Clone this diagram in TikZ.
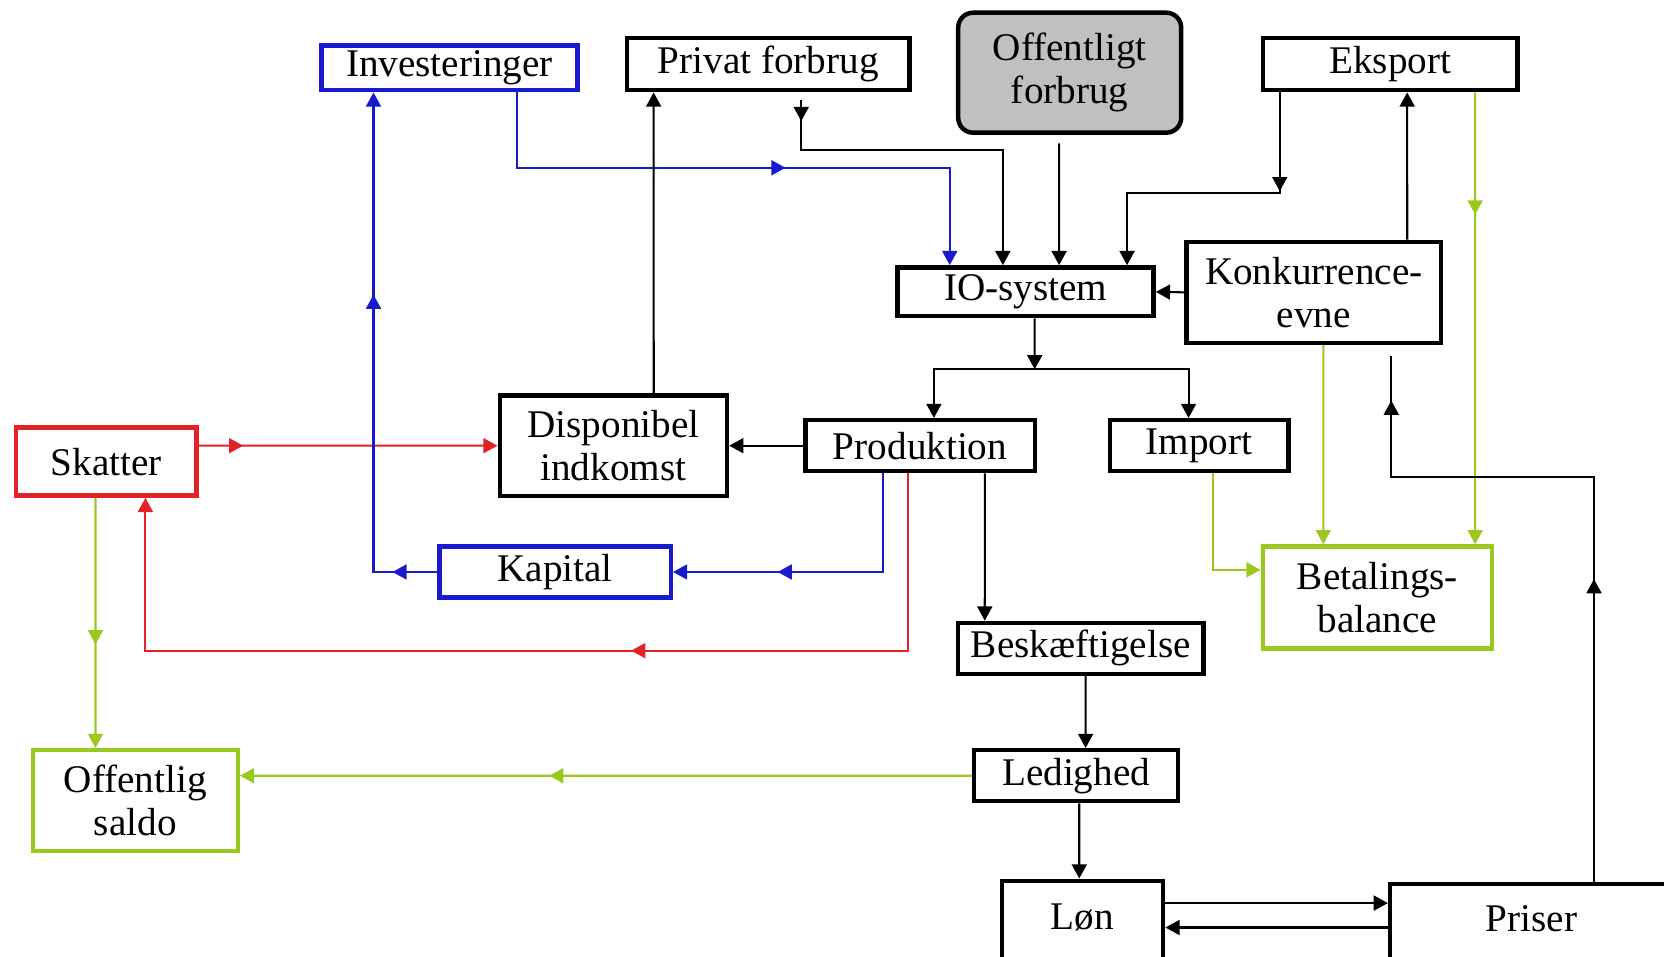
\documentclass[tikz,border=0pt]{standalone}
\usepackage{fontspec}
\setmainfont{Liberation Serif}
\usetikzlibrary{arrows.meta, decorations.markings, positioning, calc}
\definecolor{blaa}{RGB}{25,25,205}
\definecolor{roed}{RGB}{225,35,40}
\definecolor{groen}{RGB}{155,200,30}
\definecolor{graa}{RGB}{192,192,192}
\tikzstyle{block} = [draw, line width=1.2pt, inner sep=0pt, align=center, font=\fontsize{10.5}{11.5}\selectfont]
\tikzstyle{link} = [->, line width=0.55pt]
\tikzstyle{bluelink} = [link, color=blaa]
\tikzstyle{redlink} = [link, color=roed]
\tikzstyle{greenlink} = [link, color=groen]
\tikzset{midtip/.style={postaction={decorate, decoration={markings, mark=at position #1 with {\arrow{>}}}}}}

\begin{document}
\begin{tikzpicture}[x=0.01cm, y=-0.01cm, >={Triangle[length=3.8pt, width=4pt]}]
    \useasboundingbox (0,0) rectangle (1568,901);

    % --- demand side
    \node[block, draw=blaa, minimum width=2.41cm, minimum height=0.42cm] (inv) at (423.5,64) {Investeringer};
    \node[block, minimum width=2.66cm, minimum height=0.49cm] (privat) at (724,60.5) {Privat forbrug};
    \node[block, fill=graa, rounded corners=4pt, minimum width=2.1cm, minimum height=1.13cm] (offforbrug) at (1008,68.5) {Offentligt\\forbrug};
    \node[block, minimum width=2.4cm, minimum height=0.49cm] (eksport) at (1310,60.5) {Eksport};
    % --- IO-system
    \node[block, minimum width=2.41cm, minimum height=0.46cm] (io) at (966.5,275) {IO-system};
    \node[block, minimum width=2.4cm, minimum height=0.95cm] (konk) at (1238,275.5) {Konkurrence-\\evne};
    % --- middle row
    \node[block, draw=roed, minimum width=1.7cm, minimum height=0.64cm] (skatter) at (100,435) {Skatter};
    \node[block, minimum width=2.14cm, minimum height=0.95cm] (disp) at (578,420) {Disponibel\\indkomst};
    \node[block, minimum width=2.16cm, minimum height=0.48cm] (prod) at (867,420) {Produktion};
    \node[block, minimum width=1.68cm, minimum height=0.48cm] (import) at (1130,420) {Import};
    \node[block, draw=blaa, minimum width=2.18cm, minimum height=0.48cm] (kapital) at (523,539) {Kapital};
    \node[block, draw=groen, minimum width=2.16cm, minimum height=0.96cm] (betal) at (1298,563) {Betalings-\\balance};
    % --- labour market
    \node[block, minimum width=2.31cm, minimum height=0.48cm] (besk) at (1018.5,611) {Beskæftigelse};
    \node[block, draw=groen, minimum width=1.93cm, minimum height=0.95cm] (saldo) at (127.5,754.5) {Offentlig\\saldo};
    \node[block, minimum width=1.92cm, minimum height=0.48cm] (ledig) at (1014,731) {Ledighed};
    \node[block, minimum width=1.52cm, minimum height=0.78cm, text depth=0.1cm] (lon) at (1020,869) {Løn};
    \node[block, minimum width=2.66cm, minimum height=0.72cm, text depth=0.06cm] (priser) at (1443,869) {Priser};

    % --- into IO-system
    \draw[bluelink, midtip=3.24cm] ([xshift=0.635cm]inv.south) -- ++(0,71) -| ([xshift=-0.715cm]io.north);
    \draw[link, shorten <=0.07cm, midtip=0.27cm] ([xshift=0.31cm]privat.south) -- ++(0,54) -| ([xshift=-0.215cm]io.north);
    \draw[link, shorten <=0.08cm] ([xshift=-0.1cm]offforbrug.south) -- ([xshift=0.315cm]io.north);
    \draw[link, midtip=0.93cm] ([xshift=-1.04cm]eksport.south) -- ++(0,95) -| ([xshift=0.955cm]io.north);
    \draw[link] (konk.west) -- (io.east);
    \draw[link] ([xshift=0.88cm]konk.north) -- ([xshift=0.16cm]eksport.south);
    % --- Betalingsbalance
    \draw[greenlink, midtip=1.15cm] ([xshift=0.8cm]eksport.south) -- ([xshift=0.92cm]betal.north);
    \draw[greenlink] ([xshift=0.09cm]konk.south) -- ([xshift=-0.51cm]betal.north);
    \draw[greenlink] ([xshift=0.13cm]import.south) |- ([yshift=0.26cm]betal.west);

    % --- out of IO-system
    \coordinate (iosplit) at (975,348);
    \draw[link] ([xshift=0.085cm]io.south) -- (iosplit);
    \draw[link] (iosplit) -| ([xshift=0.13cm]prod.north);
    \draw[link] (iosplit) -| ([xshift=-0.1cm]import.north);

    % --- income and capital
    \draw[link] (prod.west) -- (disp.east);
    \draw[link] ([xshift=0.38cm]disp.north) -- ([xshift=-1.08cm]privat.south);
    \draw[redlink, midtip=0.42cm] ([yshift=0.15cm]skatter.east) -- (disp.west);
    \draw[bluelink, midtip=1.92cm] ([xshift=-0.35cm]prod.south) |- (kapital.east);
    \draw[bluelink, midtip=0.42cm, midtip=3.21cm] (kapital.west) -| ([xshift=-0.715cm]inv.south);
    \draw[redlink, midtip=4.28cm] ([xshift=-0.11cm]prod.south) -- ++(0,167) -| ([xshift=0.37cm]skatter.south);
    \draw[greenlink, midtip=1.38cm] ([xshift=-0.1cm]skatter.south) -- ([xshift=-0.375cm]saldo.north);

    % --- labour market and prices
    \draw[link] ([xshift=0.61cm]prod.south) -- ([xshift=-0.905cm]besk.north);
    \draw[link] ([xshift=0.045cm]besk.south) -- ([xshift=0.09cm]ledig.north);
    \draw[greenlink, midtip=3.98cm] (ledig.west) -- ([yshift=0.235cm]saldo.east);
    \draw[link] ([xshift=0.03cm]ledig.south) -- ([xshift=-0.03cm]lon.north);
    \draw[link] ([yshift=0.18cm]lon.east) -- ([yshift=0.18cm]priser.west);
    \draw[link] ([yshift=-0.05cm]priser.west) -- ([yshift=-0.05cm]lon.east);
    \draw[link, -, shorten >=0.1cm, midtip=2.85cm, midtip=6.44cm] ([xshift=0.59cm]priser.north) -- ++(0,-381) -| ([xshift=0.73cm]konk.south);

\end{tikzpicture}
\end{document}
